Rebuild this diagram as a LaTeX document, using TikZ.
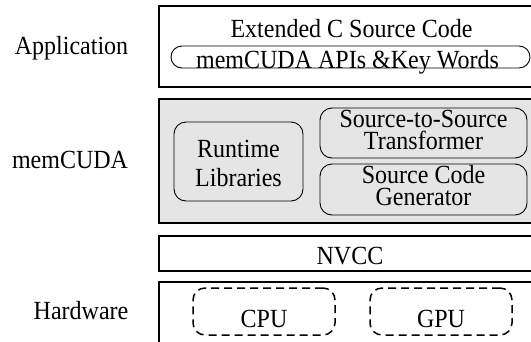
\documentclass[tikz,border=0pt]{standalone}
\usepackage{fontspec}
\setmainfont{Liberation Serif}
\newcommand{\vstr}[1]{\scalebox{1}[1.09]{#1}}
\begin{document}
\begin{tikzpicture}[x=1bp,y=-1bp,
  box/.style={draw, line width=1.7bp, inner sep=0pt, outer sep=0pt},
  grayfill/.style={fill=black!10},
  rbox/.style={draw, line width=0.9bp, rounded corners=12bp, inner sep=0pt, outer sep=0pt},
  dbox/.style={draw, line width=1.5bp, dash pattern=on 8bp off 5bp, rounded corners=12bp, inner sep=0pt, outer sep=0pt},
  txt/.style={anchor=base, inner sep=0pt, outer sep=0pt, font=\fontsize{24bp}{28bp}\selectfont},
  txtwo/.style={txt, align=center, font=\fontsize{24bp}{22bp}\selectfont}]
\useasboundingbox (0,0) rectangle (531,341);
\clip (0,0) rectangle (531,341);
% layer boxes
\node[box, minimum width=385bp, minimum height=81bp] (appbox) at (351.5,46.5) {};
\node[box, grayfill, minimum width=385bp, minimum height=124bp] (midbox) at (351.5,161) {};
\node[box, minimum width=385bp, minimum height=35bp] (nvccbox) at (351.5,253.5) {};
\node[box, minimum width=385bp, minimum height=78bp] (hwbox) at (351.5,321) {};
% inner boxes
\node[rbox, rounded corners=11bp, minimum width=359bp, minimum height=22bp] (pill) at (350.5,57) {};
\node[rbox, grayfill, minimum width=129bp, minimum height=79bp] (rtbox) at (238.5,161.5) {};
\node[rbox, grayfill, minimum width=207bp, minimum height=50bp] (s2sbox) at (423.5,133) {};
\node[rbox, grayfill, minimum width=207bp, minimum height=51bp] (genbox) at (423.5,189.5) {};
\node[dbox, minimum width=142bp, minimum height=47bp] (cpubox) at (264,311.5) {};
\node[dbox, minimum width=142bp, minimum height=47bp] (gpubox) at (441,311.5) {};
% left labels
\node[txt] (lapp) at (71.5,54) {\vstr{Application}};
\node[txt] (lmem) at (70,168) {\vstr{memCUDA}};
\node[txt] (lhw) at (81,319) {\vstr{Hardware}};
% texts
\node[txt] (t1) at (351.5,37.7) {\vstr{Extended C Source Code}};
\node[txt] (t2) at (347.5,68) {\vstr{memCUDA APIs \&Key Words}};
\node[txtwo, font=\fontsize{24bp}{29bp}\selectfont] (t3) at (238.5,186.7) {\vstr{Runtime}\\\vstr{Libraries}};
\node[txtwo] (t5) at (423.5,149.3) {\vstr{Source-to-Source}\\\vstr{Transformer}};
\node[txtwo] (t7) at (423.5,205) {\vstr{Source Code}\\\vstr{Generator}};
\node[txt] (t9) at (350,264) {\vstr{NVCC}};
\node[txt] (t10) at (264,327) {\vstr{CPU}};
\node[txt] (t11) at (441,327) {\vstr{GPU}};
\end{tikzpicture}
\end{document}
